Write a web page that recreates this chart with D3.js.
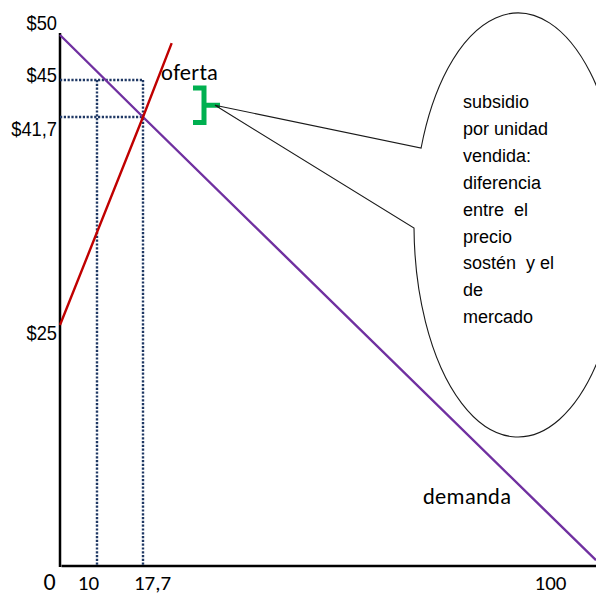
<!DOCTYPE html>
<html>
<head>
<meta charset="utf-8">
<script src="https://cdn.jsdelivr.net/npm/d3@7"></script>
<style>
  body { margin: 0; background: #fff; }
  svg { display: block; }
  .sans { font-family: "Liberation Sans", Arial, sans-serif; }
  .calib { font-family: Carlito, Calibri, Lato, sans-serif; }
</style>
</head>
<body>
<svg id="chart" width="596" height="595"></svg>
<script>
// Precios señalados en el eje vertical ($)
const priceTicks = [50, 45, 41.7, 25];
// Cantidades señaladas en el eje horizontal
const qtyTicks = [0, 10, 17.7, 100];

// Curva de demanda: cantidad y precio
const demandQty = [0, 17.7, 109.3];
const demandPrice = [50, 41.7, 0.6];

// Curva de oferta: cantidad y precio
const supplyQty = [0, 17.7, 23.5];
const supplyPrice = [25, 41.7, 49.1];

// Precio sostén y equilibrio de mercado
const supportPrice = 45;
const supportQty = 10;
const marketPrice = 41.7;
const marketQty = 17.7;

// Texto del globo explicativo
const bubbleLines = ["subsidio", "por unidad", "vendida:", "diferencia", "entre  el",
                     "precio", "sostén  y el", "de", "mercado"];

const W = 596, H = 595;
const svg = d3.select("#chart");

// Escalas del diagrama (esquemático: tramos lineales)
const x = d3.scaleLinear().domain([0, 10, 17.7, 100]).range([60, 97, 143, 550]);
const y = d3.scaleLinear().domain([0, 25, 41.7, 45, 50]).range([566, 325, 117, 80, 35]);

const es = d3.formatLocale({ decimal: ",", thousands: ".", grouping: [3], currency: ["$", ""] });
const fmt = es.format("~r");

// Ejes
svg.append("line")
  .attr("x1", x(0)).attr("x2", x(0))
  .attr("y1", y(50) - 2).attr("y2", y(0) + 1)
  .attr("stroke", "#000").attr("stroke-width", 2.5);
svg.append("line")
  .attr("x1", x(0) + 1.5).attr("x2", W)
  .attr("y1", y(0)).attr("y2", y(0))
  .attr("stroke", "#000").attr("stroke-width", 2.5);

// Etiquetas del eje vertical (tipografía estrecha)
const yNudge = new Map([[50, -13], [45, -6], [41.7, 11], [25, 7]]);
const yAxis = svg.append("g")
  .attr("transform", `translate(${x(0) - 3},0)`)
  .call(d3.axisLeft(y).tickValues(priceTicks).tickSize(0).tickPadding(0)
    .tickFormat(d => "$" + fmt(d)));
yAxis.select(".domain").remove();
yAxis.selectAll("text")
  .attr("class", "sans")
  .attr("font-size", 21)
  .attr("fill", "#000")
  .attr("y", d => yNudge.get(d))
  .attr("dy", "0.36em")
  .each(function () {
    const w = this.getComputedTextLength();
    d3.select(this).attr("textLength", w * 0.87).attr("lengthAdjust", "spacingAndGlyphs");
  });

// Etiquetas del eje horizontal
const xNudge = new Map([[0, -11], [10, -9], [17.7, 9], [100, 0]]);
const xAxis = svg.append("g")
  .attr("transform", `translate(0,${y(0)})`)
  .call(d3.axisBottom(x).tickValues(qtyTicks).tickSize(0).tickPadding(0)
    .tickFormat(d => fmt(d)));
xAxis.select(".domain").remove();
xAxis.selectAll("text")
  .attr("class", "calib")
  .attr("fill", "#000")
  .attr("font-size", d => d === 0 ? 24 : 21)
  .attr("x", d => xNudge.get(d))
  .attr("y", 24)
  .attr("dy", 0);

// Líneas punteadas: precio sostén y equilibrio
const dotted = [
  [[0, supportPrice], [marketQty, supportPrice]],
  [[supportQty, supportPrice], [supportQty, 0]],
  [[marketQty, supportPrice], [marketQty, 0]],
  [[0, marketPrice], [marketQty, marketPrice]]
];
const seg = d3.line().x(d => x(d[0])).y(d => y(d[1]));
svg.append("g").selectAll("path").data(dotted).join("path")
  .attr("d", seg)
  .attr("fill", "none")
  .attr("stroke", "#1F3864")
  .attr("stroke-width", 2.4)
  .attr("stroke-dasharray", "2.2,1.6");

// Curvas de oferta y demanda
const curve = d3.line().x(d => x(d[0])).y(d => y(d[1]));
svg.append("path")
  .attr("d", curve(demandQty.map((q, i) => [q, demandPrice[i]])))
  .attr("fill", "none").attr("stroke", "#7030A0").attr("stroke-width", 2.4);
svg.append("path")
  .attr("d", curve(supplyQty.map((q, i) => [q, supplyPrice[i]])))
  .attr("fill", "none").attr("stroke", "#C00000").attr("stroke-width", 2.4);

// Rótulos de las curvas
svg.append("text").attr("class", "calib")
  .attr("x", 161).attr("y", 80).attr("font-size", 22.5).attr("letter-spacing", 0.3).attr("fill", "#000")
  .text("oferta");
svg.append("text").attr("class", "calib")
  .attr("x", 423).attr("y", 504).attr("font-size", 22.5).attr("letter-spacing", 0.3).attr("fill", "#000")
  .text("demanda");

// Llave verde que marca el subsidio entre ambos precios
const bTop = y(supportPrice) + 8, bBot = y(marketPrice) + 5.5, bMid = (bTop + bBot) / 2;
const bX = 204;
svg.append("path")
  .attr("d", `M193,${bTop}H${bX}V${bBot}H193M${bX},${bMid}H220`)
  .attr("fill", "none").attr("stroke", "#00B050").attr("stroke-width", 5)
  .attr("stroke-linejoin", "miter");

// Globo explicativo con su puntero hacia la llave
const ell = { cx: 518, cy: 225, rx: 104, ry: 212 };
const leftPt = yy => [ell.cx - ell.rx * Math.sqrt(1 - ((yy - ell.cy) / ell.ry) ** 2), yy];
const pA = leftPt(148), pB = leftPt(228);
const tip = [215, bMid];
svg.append("path")
  .attr("d", `M${pA[0]},${pA[1]}A${ell.rx},${ell.ry} 0 1 1 ${pB[0]},${pB[1]}L${tip[0]},${tip[1]}Z`)
  .attr("fill", "none").attr("stroke", "#1a1a1a").attr("stroke-width", 1.1);

svg.append("text").attr("class", "sans")
  .attr("font-size", 18).attr("fill", "#000")
  .style("white-space", "pre")
  .selectAll("tspan").data(bubbleLines).join("tspan")
  .attr("x", 463).attr("y", (d, i) => 108 + i * 26.9)
  .text(d => d);
</script>
</body>
</html>
